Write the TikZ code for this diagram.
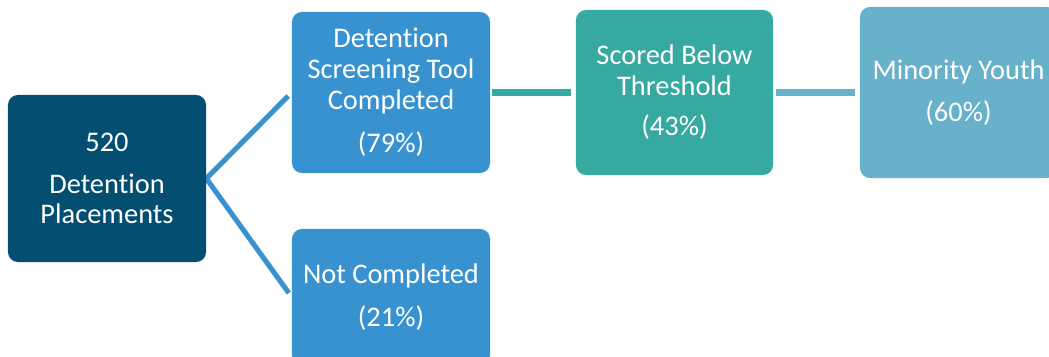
\documentclass[tikz,border=0pt]{standalone}
\usepackage{fontspec}
\setmainfont{Carlito}[Ligatures=NoCommon]
\usetikzlibrary{backgrounds}

\definecolor{placenavy}{HTML}{044E71}
\definecolor{toolblue}{HTML}{3892D0}
\definecolor{scoreteal}{HTML}{36A9A0}
\definecolor{youthblue}{HTML}{67B1CA}

\begin{document}
\begin{tikzpicture}[x=0.025cm, y=-0.025cm,
    box/.style={rounded corners=0.25cm, text=white, align=center, inner sep=0pt,
        font=\fontsize{20.2}{21.8}\selectfont},
    link/.style={line width=4.6pt}]
    \useasboundingbox (0,0) rectangle (1049,356);
    \clip (0,0) rectangle (1049,356);

    % Boxes
    \node[box, fill=placenavy, minimum width=4.95cm, minimum height=4.175cm] (total) at (107,178.5)
        {520\\[8pt]Detention\\Placements};
    \node[box, fill=toolblue, minimum width=4.95cm, minimum height=4.025cm] (done) at (391,92.5)
        {Detention\\Screening Tool\\Completed\\[9pt](79\%)};
    \node[box, fill=toolblue, minimum width=4.95cm, minimum height=3.4cm] (notdone) at (391,297)
        {Not Completed\\[9pt](21\%)};
    \node[box, fill=scoreteal, minimum width=4.925cm, minimum height=4.125cm] (below) at (674.5,92.5)
        {Scored Below\\Threshold\\[7pt](43\%)};
    \node[box, fill=youthblue, minimum width=4.925cm, minimum height=4.275cm] (youth) at (958.5,92.5)
        {Minority Youth\\[8pt](60\%)};

    % Connectors
    \begin{scope}[on background layer]
        \draw[link, toolblue, line width=3.6pt, shorten <=3.5pt, shorten >=3.5pt]
            (done.west) -- (total.east) -- (notdone.west);
        \draw[link, scoreteal, shorten <=1.4pt, shorten >=3.5pt] (done.east) -- (below.west);
        \draw[link, youthblue, shorten <=2pt, shorten >=3.5pt] (below.east) -- (youth.west);
    \end{scope}
\end{tikzpicture}
\end{document}
